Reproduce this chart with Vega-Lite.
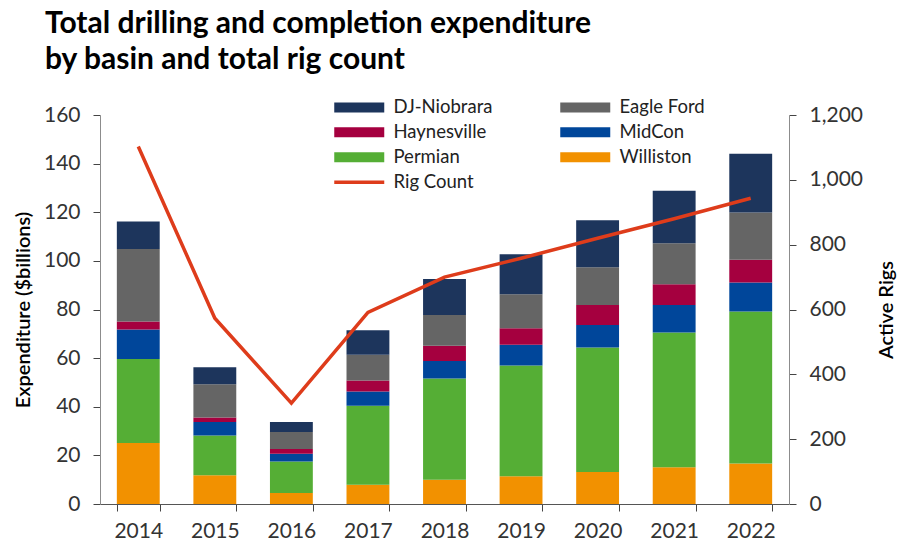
{
  "$schema": "https://vega.github.io/schema/vega-lite/v6.json",
  "width": 689,
  "height": 389,
  "autosize": {"type": "none"},
  "padding": {"left": 100, "top": 115, "right": 109, "bottom": 44},
  "background": "white",
  "title": {
    "text": ["Total drilling and completion expenditure", "by basin and total rig count"],
    "anchor": "start",
    "frame": "group",
    "font": "Lato",
    "fontWeight": "bold",
    "fontSize": 30,
    "lineHeight": 36,
    "color": "#000000",
    "dx": -55,
    "offset": 23
  },
  "config": {
    "view": {"stroke": null},
    "font": "Lato",
    "axis": {
      "labelFont": "Lato",
      "titleFont": "Lato",
      "labelFontSize": 21,
      "titleFontSize": 20,
      "titleFontWeight": 600,
      "labelColor": "#333333",
      "titleColor": "#000000",
      "domainColor": "#8c8c8c",
      "tickColor": "#444444",
      "tickSize": 7,
      "grid": false
    },
    "legend": {
      "labelFont": "Lato",
      "labelFontSize": 18.5,
      "labelColor": "#222222"
    }
  },
  "datasets": {
    "spend": [
      {"year": "2014", "basin": "Williston", "value": 25.1},
      {"year": "2014", "basin": "Permian", "value": 34.5},
      {"year": "2014", "basin": "MidCon", "value": 12.2},
      {"year": "2014", "basin": "Haynesville", "value": 3.3},
      {"year": "2014", "basin": "Eagle Ford", "value": 29.8},
      {"year": "2014", "basin": "DJ-Niobrara", "value": 11.3},
      {"year": "2015", "basin": "Williston", "value": 11.8},
      {"year": "2015", "basin": "Permian", "value": 16.4},
      {"year": "2015", "basin": "MidCon", "value": 5.5},
      {"year": "2015", "basin": "Haynesville", "value": 1.9},
      {"year": "2015", "basin": "Eagle Ford", "value": 13.7},
      {"year": "2015", "basin": "DJ-Niobrara", "value": 6.9},
      {"year": "2016", "basin": "Williston", "value": 4.5},
      {"year": "2016", "basin": "Permian", "value": 13.0},
      {"year": "2016", "basin": "MidCon", "value": 3.2},
      {"year": "2016", "basin": "Haynesville", "value": 1.9},
      {"year": "2016", "basin": "Eagle Ford", "value": 7.0},
      {"year": "2016", "basin": "DJ-Niobrara", "value": 4.1},
      {"year": "2017", "basin": "Williston", "value": 7.9},
      {"year": "2017", "basin": "Permian", "value": 32.5},
      {"year": "2017", "basin": "MidCon", "value": 5.9},
      {"year": "2017", "basin": "Haynesville", "value": 4.5},
      {"year": "2017", "basin": "Eagle Ford", "value": 10.6},
      {"year": "2017", "basin": "DJ-Niobrara", "value": 10.1},
      {"year": "2018", "basin": "Williston", "value": 10.0},
      {"year": "2018", "basin": "Permian", "value": 41.6},
      {"year": "2018", "basin": "MidCon", "value": 7.2},
      {"year": "2018", "basin": "Haynesville", "value": 6.3},
      {"year": "2018", "basin": "Eagle Ford", "value": 12.6},
      {"year": "2018", "basin": "DJ-Niobrara", "value": 14.8},
      {"year": "2019", "basin": "Williston", "value": 11.4},
      {"year": "2019", "basin": "Permian", "value": 45.6},
      {"year": "2019", "basin": "MidCon", "value": 8.5},
      {"year": "2019", "basin": "Haynesville", "value": 6.8},
      {"year": "2019", "basin": "Eagle Ford", "value": 14.0},
      {"year": "2019", "basin": "DJ-Niobrara", "value": 16.4},
      {"year": "2020", "basin": "Williston", "value": 13.2},
      {"year": "2020", "basin": "Permian", "value": 51.2},
      {"year": "2020", "basin": "MidCon", "value": 9.2},
      {"year": "2020", "basin": "Haynesville", "value": 8.2},
      {"year": "2020", "basin": "Eagle Ford", "value": 15.6},
      {"year": "2020", "basin": "DJ-Niobrara", "value": 19.3},
      {"year": "2021", "basin": "Williston", "value": 15.1},
      {"year": "2021", "basin": "Permian", "value": 55.4},
      {"year": "2021", "basin": "MidCon", "value": 11.3},
      {"year": "2021", "basin": "Haynesville", "value": 8.6},
      {"year": "2021", "basin": "Eagle Ford", "value": 16.9},
      {"year": "2021", "basin": "DJ-Niobrara", "value": 21.5},
      {"year": "2022", "basin": "Williston", "value": 16.7},
      {"year": "2022", "basin": "Permian", "value": 62.5},
      {"year": "2022", "basin": "MidCon", "value": 11.9},
      {"year": "2022", "basin": "Haynesville", "value": 9.4},
      {"year": "2022", "basin": "Eagle Ford", "value": 19.4},
      {"year": "2022", "basin": "DJ-Niobrara", "value": 24.2}
    ],
    "rigs": [
      {"year": "2014", "rigs": 1103},
      {"year": "2015", "rigs": 573},
      {"year": "2016", "rigs": 311},
      {"year": "2017", "rigs": 591},
      {"year": "2018", "rigs": 700},
      {"year": "2019", "rigs": 758},
      {"year": "2020", "rigs": 820},
      {"year": "2021", "rigs": 880},
      {"year": "2022", "rigs": 943}
    ]
  },
  "encoding": {
    "x": {
      "field": "year",
      "type": "nominal",
      "scale": {"paddingInner": 0.44, "paddingOuter": 0.22},
      "axis": {"title": null, "labelAngle": 0, "tickBand": "extent", "labelPadding": 9, "domainColor": "#555555"}
    }
  },
  "layer": [
    {
      "data": {"name": "spend"},
      "mark": {"type": "bar"},
      "encoding": {
        "y": {
          "field": "value",
          "type": "quantitative",
          "aggregate": "sum",
          "scale": {"domain": [0, 160]},
          "axis": {"title": "Expenditure ($billions)", "values": [0, 20, 40, 60, 80, 100, 120, 140, 160], "labelPadding": 13, "titlePadding": 10}
        },
        "color": {
          "field": "basin",
          "type": "nominal",
          "scale": {
            "domain": ["DJ-Niobrara", "Eagle Ford", "Haynesville", "MidCon", "Permian", "Williston", "Rig Count"],
            "range": ["#1d355c", "#656565", "#a5003f", "#00469a", "#55ae35", "#f29100", "#de3c1b"]
          },
          "legend": {
            "title": null,
            "orient": "none",
            "legendX": 230,
            "legendY": -17,
            "columns": 2,
            "direction": "horizontal",
            "padding": 0,
            "columnPadding": 63,
            "rowPadding": 6,
            "labelOffset": 45,
            "symbolSize": 100,
            "symbolType": "M-1,-1h10v2h-10Z",
            "symbolStrokeWidth": 0,
            "encode": {
              "symbols": {
                "update": {
                  "shape": {"signal": "datum.value === 'Rig Count' ? 'M-1,-0.35h10v0.7h-10Z' : 'M-1,-1h10v2h-10Z'"},
                  "fill": {"signal": "scale('color', datum.value)"},
                  "strokeWidth": {"value": 0},
                  "opacity": {"value": 1}
                }
              }
            }
          }
        },
        "order": {"field": "basin", "sort": "descending"}
      }
    },
    {
      "data": {"name": "rigs"},
      "mark": {"type": "line", "strokeWidth": 3.5},
      "encoding": {
        "y": {
          "field": "rigs",
          "type": "quantitative",
          "scale": {"domain": [0, 1200]},
          "axis": {"title": "Active Rigs", "orient": "right", "format": ",d", "values": [0, 200, 400, 600, 800, 1000, 1200], "labelPadding": 13, "titlePadding": 34, "titleAngle": 270}
        },
        "color": {"datum": "Rig Count"}
      }
    }
  ],
  "resolve": {"scale": {"y": "independent"}}
}
